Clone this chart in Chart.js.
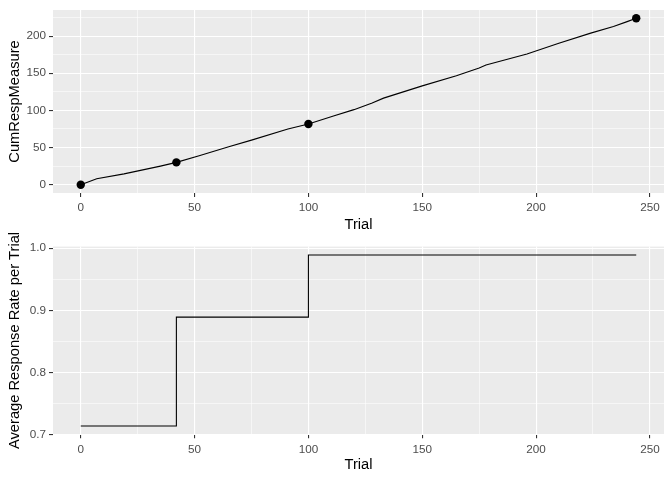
<!DOCTYPE html>
<html>
<head>
<meta charset="utf-8">
<script src="https://cdn.jsdelivr.net/npm/chart.js@4"></script>
<style>
  body { margin: 0; background: #fff; }
  canvas { display: block; position: absolute; left: 0; }
  #cumChart { top: 0; }
  #rateChart { top: 220px; }
</style>
</head>
<body>
<canvas id="cumChart" width="672" height="240"></canvas>
<canvas id="rateChart" width="672" height="260"></canvas>
<script>
// cumulative response line
const cumTrials = [0, 7, 19, 35, 42, 52, 65, 75, 91, 100, 111, 120, 128, 133, 150, 165, 175, 178, 196, 210, 224, 234, 240, 244];
const cumValues = [0, 8, 14.5, 25, 30, 39, 51, 60, 75, 81.6, 92.5, 101, 110, 116.5, 133, 146.5, 157, 161, 176, 190.5, 204, 213, 219.5, 224];

// the big dots
const markerTrials = [0, 42, 100, 244];
const markerValues = [0, 30, 81.6, 224];

// average response rate per trial (step line)
const rateTrials = [0, 42, 100, 244];
const rateValues = [0.714, 0.889, 0.989, 0.989];

// ticks
const xMajor = [0, 50, 100, 150, 200, 250];
const xMinor = [25, 75, 125, 175, 225];
const cumMajor = [0, 50, 100, 150, 200];
const cumMinor = [25, 75, 125, 175, 225];
const rateMajor = [0.7, 0.8, 0.9, 1.0];
const rateMinor = [0.75, 0.85, 0.95];

const FONT = "'Liberation Sans', Arial, sans-serif";
const tickFont = { family: FONT, size: 11.7 };
const titleFont = { family: FONT, size: 14.7 };

const panelBg = {
    id: "panelBg",
    beforeDraw(chart) {
        const a = chart.chartArea;
        chart.ctx.save();
        chart.ctx.fillStyle = "#EBEBEB";
        chart.ctx.fillRect(a.left, a.top, a.right - a.left, a.bottom - a.top);
        chart.ctx.restore();
    }
};

let setTicks = (major, minor) => (axis) => {
    axis.ticks = major.map(v => ({ value: v, major: true }))
        .concat(minor.map(v => ({ value: v, major: false })))
        .sort((a, b) => a.value - b.value);
};

let makeAxis = (min, max, major, minor, fmt, size, title, horizontal) => ({
    type: "linear",
    position: horizontal ? "bottom" : "left",
    min: min,
    max: max,
    bounds: "data",
    afterBuildTicks: setTicks(major, minor),
    afterFit: (axis) => {
        if (horizontal) axis.height = size; else axis.width = size;
    },
    border: { display: false },
    grid: {
        color: "#FFFFFF",
        lineWidth: (c) => (c.tick && c.tick.major ? 1.1 : 0.55),
        tickColor: (c) => (c.tick && c.tick.major ? "#333333" : "rgba(0,0,0,0)"),
        tickLength: 4,
        tickWidth: 1.1
    },
    ticks: {
        autoSkip: false,
        maxRotation: 0,
        padding: horizontal ? 4 : 3,
        color: "#4D4D4D",
        font: tickFont,
        callback: (v, i, ticks) => (ticks[i].major ? fmt(v) : "")
    },
    title: {
        display: true,
        text: title,
        color: "#000000",
        font: titleFont,
        padding: horizontal ? { top: 0, bottom: 6 } : { top: 6, bottom: 0 }
    }
});

const common = {
    responsive: false,
    animation: false,
    events: [],
    plugins: { legend: { display: false }, tooltip: { enabled: false } }
};

new Chart(document.getElementById("cumChart"), {
    type: "line",
    data: {
        datasets: [
            {
                data: cumTrials.map((t, i) => ({ x: t, y: cumValues[i] })),
                borderColor: "#000000",
                borderWidth: 1.1,
                pointRadius: 0,
                tension: 0
            },
            {
                data: markerTrials.map((t, i) => ({ x: t, y: markerValues[i] })),
                showLine: false,
                pointRadius: 4.2,
                pointBackgroundColor: "#000000",
                pointBorderWidth: 0
            }
        ]
    },
    options: {
        ...common,
        layout: { padding: { top: 7, right: 8, left: 0, bottom: 0 } },
        scales: {
            x: makeAxis(-12.2, 256.2, xMajor, xMinor, (v) => String(v), 47, "Trial", true),
            y: makeAxis(-11.2, 235.1, cumMajor, cumMinor, (v) => String(v), 53, "CumRespMeasure", false)
        }
    },
    plugins: [panelBg]
});

// bottom canvas starts 20px higher so the long y title is not cut
new Chart(document.getElementById("rateChart"), {
    type: "line",
    data: {
        datasets: [
            {
                data: rateTrials.map((t, i) => ({ x: t, y: rateValues[i] })),
                borderColor: "#000000",
                borderWidth: 1.1,
                pointRadius: 0,
                stepped: "before"
            }
        ]
    },
    options: {
        ...common,
        layout: { padding: { top: 26.6, right: 8, left: 0, bottom: 0 } },
        scales: {
            x: makeAxis(-12.2, 256.2, xMajor, xMinor, (v) => String(v), 45.7, "Trial", true),
            y: makeAxis(0.7006, 1.0024, rateMajor, rateMinor, (v) => v.toFixed(1), 53, "Average Response Rate per Trial", false)
        }
    },
    plugins: [panelBg]
});
</script>
</body>
</html>
